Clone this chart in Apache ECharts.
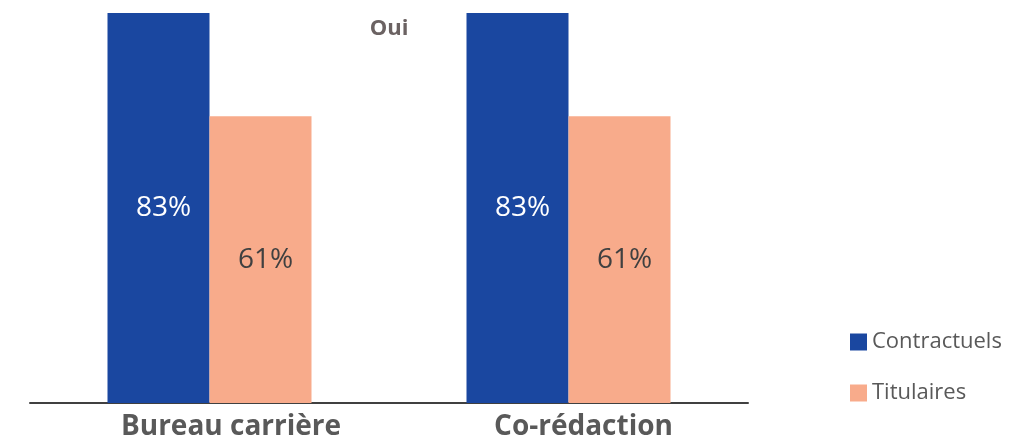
<!DOCTYPE html>
<html>
<head>
<meta charset="utf-8">
<script src="https://cdn.jsdelivr.net/npm/echarts@6/dist/echarts.min.js"></script>
<style>
  html, body { margin: 0; padding: 0; background: #fff; }
  #chart { width: 1033px; height: 444px; }
</style>
</head>
<body>
<div id="chart"></div>
<script>
// Share of "Oui" answers by staff status
const categories = ['Bureau carrière', 'Co-rédaction'];
const seriesNames = ['Contractuels', 'Titulaires'];
const contractuels = [83, 83];
const titulaires = [61, 61];

const FONT = '"Open Sans", "Noto Sans", sans-serif';
const labelShift = [43, 30]; // left padding that nudges each category label to the right

const chart = echarts.init(document.getElementById('chart'));

chart.setOption({
  animation: false,
  title: {
    text: 'Oui',
    left: 384,
    top: 13,
    textAlign: 'center',
    textStyle: { fontFamily: FONT, fontSize: 22, fontWeight: 'bold', color: '#6b6262' }
  },
  legend: {
    orient: 'vertical',
    left: 845,
    top: 325,
    itemWidth: 17,
    itemHeight: 17,
    itemGap: 27,
    icon: 'rect',
    data: seriesNames,
    textStyle: { fontFamily: FONT, fontSize: 22, lineHeight: 24, color: '#595959', padding: [0, 0, 0, 0] }
  },
  grid: { left: 30, right: 285, top: 13, bottom: 41 },
  xAxis: {
    type: 'category',
    data: categories.map((c, i) => ({ value: c, textStyle: { padding: [0, 0, 0, labelShift[i]] } })),
    axisLine: { lineStyle: { color: '#404040', width: 2 } },
    axisTick: { show: false },
    axisLabel: {
      margin: 10,
      fontFamily: FONT, fontSize: 28, fontWeight: 'bold', color: '#595959'
    }
  },
  yAxis: {
    type: 'value',
    min: 0,
    max: 'dataMax',
    show: false,
    splitLine: { show: false }
  },
  series: [
    {
      name: seriesNames[0],
      type: 'bar',
      data: contractuels,
      barWidth: 102,
      barGap: '0%',
      itemStyle: { color: '#1a47a0' },
      label: {
        show: true, position: 'inside', formatter: '{c}%', offset: [5, 0],
        fontFamily: FONT, fontSize: 28, color: '#ffffff'
      }
    },
    {
      name: seriesNames[1],
      type: 'bar',
      data: titulaires,
      barWidth: 102,
      barGap: '0%',
      itemStyle: { color: '#f8ab8b' },
      label: {
        show: true, position: 'inside', formatter: '{c}%', offset: [5, 0],
        fontFamily: FONT, fontSize: 28, color: '#404040'
      }
    }
  ]
});
</script>
</body>
</html>
